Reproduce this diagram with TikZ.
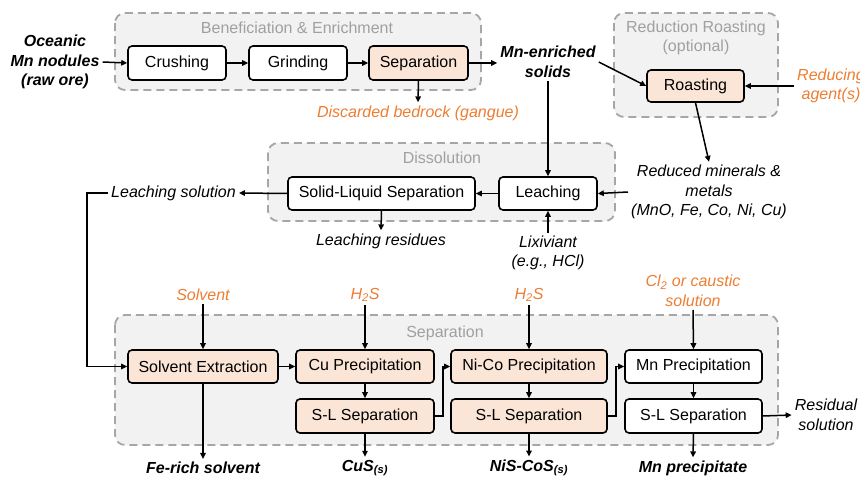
\documentclass[tikz,border=0pt]{standalone}
\usepackage{fontspec}
\setmainfont{Liberation Sans}
\usetikzlibrary{arrows.meta,calc}
\definecolor{peach}{HTML}{FBE5D6}
\definecolor{grpfill}{HTML}{F2F2F2}
\definecolor{grpline}{HTML}{A6A6A6}
\definecolor{orng}{HTML}{ED7D31}
\definecolor{ttlgray}{HTML}{A0A0A0}
\tikzset{
  procbox/.style={draw=black, line width=1.6pt, rounded corners=4pt, fill=white,
    minimum height=33pt, inner sep=0pt, font=\fontsize{16}{19.5}\selectfont},
  hot/.style={fill=peach},
  grp/.style={draw=grpline, line width=1.8pt, dash pattern=on 8pt off 5pt,
    rounded corners=10pt, fill=grpfill},
  grptitle/.style={text=ttlgray, align=center, font=\fontsize{16}{19.5}\selectfont},
  lbl/.style={align=center, inner sep=3pt, font=\fontsize{16}{19.5}\selectfont\itshape},
  blbl/.style={align=center, inner sep=3pt, font=\fontsize{16}{19.5}\selectfont\bfseries\itshape},
  olbl/.style={lbl, text=orng},
  arr/.style={line width=1.5pt, -{Triangle[length=6pt,width=5.5pt]}},
}
\begin{document}
\begin{tikzpicture}[x=1pt,y=-1pt]
\useasboundingbox (0,0) rectangle (860,479);
% groups
\draw[grp] (115,13) rectangle (481,90);
\draw[grp] (614,13) rectangle (778,117);
\draw[grp] (268,143) rectangle (615,221);
\draw[grp] (115,315) rectangle (778,445);
\node[grptitle] (t1) at (297,28) {Beneficiation \& Enrichment};
\node[grptitle] (t2) at (696,38) {Reduction Roasting\\(optional)};
\node[grptitle] (t3) at (442,158) {Dissolution};
\node[grptitle] (t4) at (445,333) {Separation};
% process boxes
\node[procbox, minimum width=98pt, minimum height=34pt] (crush) at (177,63) {Crushing};
\node[procbox, minimum width=98pt, minimum height=34pt] (grind) at (298,63) {Grinding};
\node[procbox, hot, minimum width=99pt, minimum height=34pt] (sep) at (418.5,63) {Separation};
\node[procbox, hot, minimum width=97pt, minimum height=32pt] (roast) at (695.5,86) {Roasting};
\node[procbox, minimum width=187pt] (sls) at (381.5,193.5) {Solid-Liquid Separation};
\node[procbox, minimum width=98pt] (leach) at (548,193.5) {Leaching};
\node[procbox, hot, minimum width=150pt] (se) at (203,366.5) {Solvent Extraction};
\node[procbox, hot, minimum width=138pt] (cup) at (365,366.5) {Cu Precipitation};
\node[procbox, hot, minimum width=138pt, minimum height=34pt] (cusl) at (365,416) {S-L Separation};
\node[procbox, hot, minimum width=156pt] (nip) at (529,366.5) {Ni-Co Precipitation};
\node[procbox, hot, minimum width=156pt, minimum height=34pt] (nisl) at (529,416) {S-L Separation};
\node[procbox, minimum width=137pt] (mnp) at (693.5,366.5) {Mn Precipitation};
\node[procbox, minimum width=137pt, minimum height=34pt] (mnsl) at (693.5,416) {S-L Separation};
% labels
\node[blbl] (ore) at (55,62) {Oceanic\\Mn nodules\\(raw ore)};
\node[blbl] (mnsol) at (548,62) {Mn-enriched\\solids};
\node[olbl] (disc) at (418,113) {Discarded bedrock (gangue)};
\node[olbl, anchor=west] (reduc) at (794,86) {Reducing\\agent(s)};
\node[lbl] (redmin) at (709,192) {Reduced minerals \&\\metals\\(MnO, Fe, Co, Ni, Cu)};
\node[lbl] (lsol) at (173.5,193) {Leaching solution};
\node[lbl] (lres) at (381,241) {Leaching residues};
\node[lbl] (lix) at (548,253) {Lixiviant\\(e.g., HCl)};
\node[olbl] (solv) at (203,295) {Solvent};
\node[olbl] (h2sa) at (365,295) {H\textsubscript{2}S};
\node[olbl] (h2sb) at (529,295) {H\textsubscript{2}S};
\node[olbl] (cl2) at (693,291) {Cl\textsubscript{2} or caustic\\solution};
\node[blbl] (fe) at (203,468) {Fe-rich solvent};
\node[blbl] (cus) at (365,468) {CuS\textsubscript{(s)}};
\node[blbl] (nis) at (529,468) {NiS-CoS\textsubscript{(s)}};
\node[blbl] (mnpr) at (693,468) {Mn precipitate};
\node[lbl] (resid) at (826,415) {Residual\\solution};
\coordinate (lsbend) at (87,193);
% connectors
\draw[arr] (ore.east) -- (crush.west);
\draw[arr] (crush) -- (grind);
\draw[arr] (grind) -- (sep);
\draw[arr] (sep.east) -- (sep.east -| mnsol.west);
\draw[arr] (sep.south) -- (disc.north);
\draw[arr] (mnsol.east) -- (roast.west);
\draw[arr] (reduc.west) -- (roast.east);
\draw[arr] (roast.south) -- (redmin.north);
\draw[arr] (mnsol.south) -- (leach.north);
\draw[arr] (redmin.west) -- (leach.east);
\draw[arr] (leach.west) -- (sls.east);
\draw[arr] (sls.west) -- (lsol.east);
\draw[arr] (sls.south) -- (lres.north);
\draw[arr] (lix.north) -- (leach.south);
\draw[arr] (lsol.west) -- (lsbend) |- (se.west);
\draw[arr] (solv.south) -- (se.north);
\draw[arr] (h2sa.south) -- (cup.north);
\draw[arr] (h2sb.south) -- (nip.north);
\draw[arr] (cl2.south) -- (mnp.north);
\draw[arr] (se.east) -- (cup.west);
\draw[arr] (cup.south) -- (cusl.north);
\draw[arr] (nip.south) -- (nisl.north);
\draw[arr] (mnp.south) -- (mnsl.north);
\draw[arr] (cusl.east) -- ++(8,0) |- (nip.west);
\draw[arr] (nisl.east) -- ++(8,0) |- (mnp.west);
\draw[arr] (mnsl.east) -- (resid.west);
\draw[arr] (se.south) -- (fe.north);
\draw[arr] (cusl.south) -- (cus.north);
\draw[arr] (nisl.south) -- (nis.north);
\draw[arr] (mnsl.south) -- (mnpr.north);
\end{tikzpicture}
\end{document}
